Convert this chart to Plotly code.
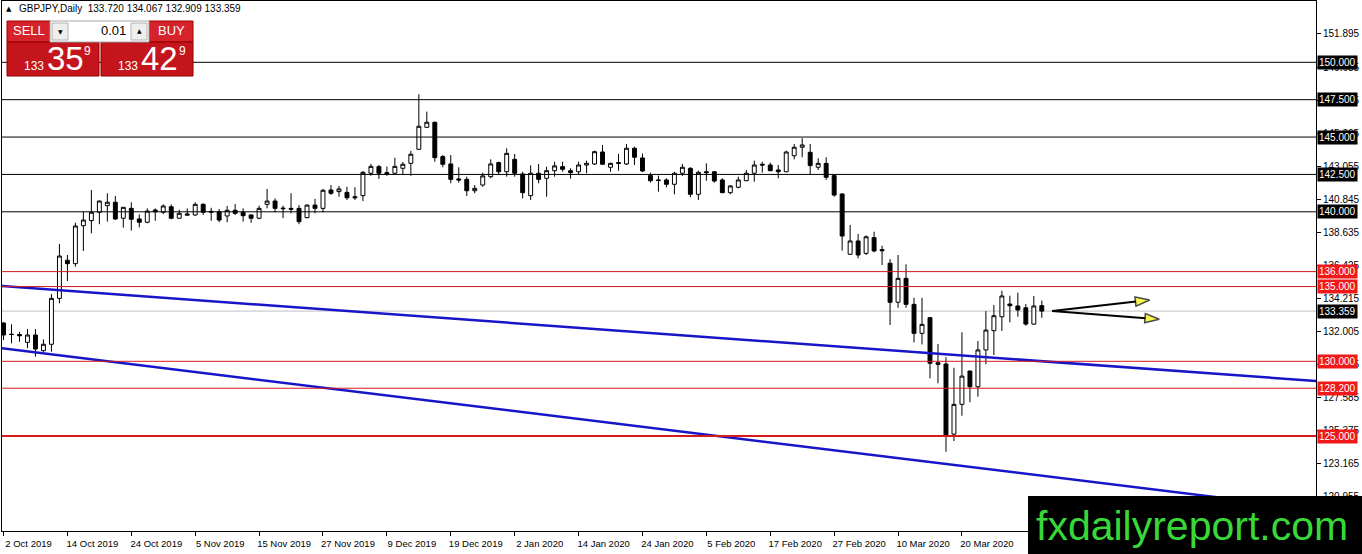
import plotly.graph_objects as go

# ---------------- data ----------------
open_ = [132.56, 131.80, 131.79, 131.27, 131.76, 130.71, 131.14, 134.21, 136.76, 136.53,
         139.07, 139.41, 139.97, 140.41, 140.64, 139.57, 140.23, 139.52, 139.30, 140.12,
         139.97, 140.34, 139.57, 139.77, 139.79, 140.50, 140.03, 140.00, 139.72, 140.10,
         139.97, 139.79, 139.57, 140.50, 140.72, 140.25, 140.23, 140.23, 139.61, 140.45,
         140.23, 141.46, 141.35, 141.30, 141.01, 141.08, 142.58, 143.02, 142.62, 142.58,
         142.91, 143.24, 144.18, 145.65, 145.99, 143.69, 143.20, 142.20, 142.17, 141.41,
         141.79, 142.35, 143.29, 142.68, 143.51, 142.53, 141.08, 142.58, 142.24, 142.75,
         143.02, 142.75, 142.68, 143.13, 143.20, 144.00, 142.98, 143.29, 143.20, 144.25,
         143.60, 142.42, 142.13, 142.13, 141.84, 142.58, 142.91, 141.17, 142.68, 142.68,
         142.13, 141.28, 141.64, 142.08, 142.58, 143.18, 143.13, 142.80, 142.68, 143.75,
         144.32, 143.98, 142.98, 143.24, 142.42, 141.19, 137.16, 138.05, 137.22, 138.27,
         137.47, 136.56, 133.95, 135.55, 133.81, 131.87, 132.92, 129.90, 129.82, 125.13,
         127.12, 129.35, 128.30, 130.76, 132.05, 132.98, 133.83, 133.70, 133.58, 132.49,
         133.720]
high = [132.63, 132.47, 131.98, 132.16, 132.16, 131.47, 134.50, 137.85, 137.11, 139.27,
        140.01, 141.46, 140.75, 141.24, 141.06, 140.32, 140.64, 139.83, 140.23, 140.23,
        140.50, 140.50, 140.14, 140.23, 140.64, 140.57, 140.27, 140.19, 140.39, 140.52,
        140.23, 139.83, 140.41, 141.53, 140.90, 140.41, 141.24, 140.45, 140.50, 140.86,
        141.53, 141.79, 141.73, 141.68, 141.64, 142.73, 143.20, 143.13, 143.02, 143.62,
        143.33, 144.07, 147.86, 146.70, 146.03, 143.80, 143.80, 142.98, 142.35, 141.79,
        142.62, 143.51, 143.35, 144.25, 143.87, 142.68, 143.11, 143.20, 143.02, 143.35,
        143.35, 142.91, 143.35, 143.42, 144.09, 144.47, 143.29, 143.87, 144.54, 144.36,
        143.90, 142.62, 142.42, 142.24, 142.68, 143.20, 142.98, 142.75, 143.24, 142.73,
        142.24, 141.79, 142.35, 142.80, 143.42, 143.35, 143.29, 143.13, 144.09, 144.54,
        144.92, 144.54, 143.58, 143.65, 142.45, 141.24, 139.12, 138.52, 138.42, 138.67,
        137.73, 136.84, 137.11, 136.49, 134.25, 134.25, 132.95, 131.16, 130.27, 129.57,
        131.94, 129.38, 131.36, 133.36, 133.76, 134.72, 134.39, 134.59, 133.83, 134.37,
        134.067]
low = [131.42, 131.20, 131.31, 130.87, 130.31, 130.64, 130.64, 133.88, 135.37, 136.33,
       137.38, 138.56, 139.17, 139.34, 139.45, 138.94, 138.74, 138.96, 139.23, 139.40,
       139.85, 139.50, 139.55, 139.72, 139.72, 139.79, 139.40, 139.30, 139.30, 139.79,
       139.34, 139.27, 139.50, 140.23, 139.97, 139.57, 139.90, 139.17, 139.57, 139.90,
       139.97, 141.13, 141.01, 140.79, 140.79, 140.72, 142.41, 142.20, 142.41, 142.46,
       142.46, 142.41, 144.15, 145.62, 143.35, 142.98, 141.91, 141.95, 141.06, 141.24,
       141.68, 142.24, 142.46, 142.35, 142.35, 140.90, 140.79, 141.91, 141.01, 142.35,
       142.68, 142.22, 142.46, 142.58, 143.13, 143.13, 142.68, 142.75, 143.13, 143.13,
       142.66, 141.95, 141.35, 141.64, 141.17, 142.40, 140.97, 140.79, 142.08, 141.95,
       141.25, 141.17, 141.57, 142.05, 142.01, 142.62, 142.72, 142.24, 142.65, 143.51,
       143.65, 142.46, 142.80, 142.13, 141.01, 137.40, 137.11, 136.89, 137.11, 137.29,
       136.44, 132.43, 133.58, 133.58, 131.27, 131.13, 128.86, 128.53, 123.95, 124.67,
       126.36, 127.26, 127.63, 129.80, 130.42, 132.03, 132.61, 132.98, 132.38, 132.43,
       132.909]
close = [131.76, 131.80, 131.71, 131.76, 130.82, 131.14, 134.21, 137.04, 136.53, 139.05,
         139.45, 139.97, 140.72, 140.64, 139.52, 140.30, 139.50, 139.30, 140.05, 140.00,
         140.39, 139.57, 139.90, 139.85, 140.50, 139.97, 139.98, 139.45, 140.10, 139.90,
         139.74, 139.57, 140.23, 140.72, 140.23, 140.21, 140.17, 139.34, 140.45, 140.23,
         141.44, 141.24, 141.53, 140.94, 140.94, 142.64, 143.04, 142.58, 142.55, 143.04,
         143.18, 143.85, 145.72, 145.99, 143.62, 143.18, 142.17, 142.13, 141.41, 141.57,
         142.40, 143.20, 142.68, 143.91, 142.58, 141.28, 142.58, 142.17, 142.75, 143.07,
         142.84, 142.62, 143.13, 143.24, 144.02, 143.18, 143.24, 143.24, 144.25, 143.65,
         142.73, 142.08, 142.10, 141.84, 142.58, 142.98, 141.17, 142.64, 142.62, 142.06,
         141.28, 141.73, 142.13, 142.58, 143.13, 143.13, 142.75, 142.68, 144.00, 144.32,
         144.47, 143.09, 143.24, 142.31, 141.12, 138.38, 138.05, 137.11, 138.33, 137.38,
         137.40, 133.95, 135.55, 133.81, 131.87, 132.47, 129.87, 129.80, 125.07, 127.12,
         129.01, 128.30, 130.76, 132.09, 133.05, 134.37, 133.72, 133.43, 132.49, 133.70,
         133.359]

x_tick_idx = [0, 8, 16, 24, 32, 40, 48, 56, 64, 72, 80, 88, 96, 104, 112, 120]
x_tick_text = ["2 Oct 2019", "14 Oct 2019", "24 Oct 2019", "5 Nov 2019", "15 Nov 2019",
               "27 Nov 2019", "9 Dec 2019", "19 Dec 2019", "2 Jan 2020", "14 Jan 2020",
               "24 Jan 2020", "5 Feb 2020", "17 Feb 2020", "27 Feb 2020", "10 Mar 2020",
               "20 Mar 2020"]
y_tick_vals = [151.895, 149.685, 147.475, 145.265, 143.055, 140.845, 138.635, 136.425,
               134.215, 132.005, 129.795, 127.585, 125.375, 123.165, 120.955]

black_levels = [150.0, 147.5, 145.0, 142.5, 140.0]
red_levels = [136.0, 135.0, 130.0, 128.2, 125.0]
red_widths = [1, 1, 1, 1, 2]
bid_price = 133.359

upper_trend_x = [-0.19, 164.33]
upper_trend_y = [135.03, 128.68]
lower_trend_x = [-0.19, 164.33]
lower_trend_y = [130.87, 120.10]

arrow_start = (131.3, 133.37)
arrow_ends = [(143.5, 134.10), (144.7, 132.81)]

header_text = "GBPJPY,Daily  133.720 134.067 132.909 133.359"
sell_price = ("133", "35", "9")
buy_price = ("133", "42", "9")
lot_text = "0.01"

# ---------------- layout geometry ----------------
W, H = 1362, 554
PL, PT, PW, PH = 2, 1, 1314, 530
FONT = "Liberation Sans, Arial, sans-serif"


def px(x):
    return (x - PL) / PW


def py(y):
    return 1 - (y - PT) / PH


x_idx = list(range(len(open_)))

fig = go.Figure()
fig.add_trace(go.Candlestick(
    x=x_idx, open=open_, high=high, low=low, close=close,
    increasing=dict(line=dict(color="black", width=1), fillcolor="white"),
    decreasing=dict(line=dict(color="black", width=1), fillcolor="black"),
    whiskerwidth=0, hoverinfo="skip", showlegend=False))

blue = "#1616c8"
fig.add_trace(go.Scatter(x=upper_trend_x, y=upper_trend_y, mode="lines",
                         line=dict(color=blue, width=2.5), hoverinfo="skip", showlegend=False))
fig.add_trace(go.Scatter(x=lower_trend_x, y=lower_trend_y, mode="lines",
                         line=dict(color=blue, width=2.5), hoverinfo="skip", showlegend=False))

for ex, ey in arrow_ends:
    fig.add_trace(go.Scatter(
        x=[arrow_start[0], ex], y=[arrow_start[1], ey], mode="lines+markers",
        line=dict(color="black", width=2),
        marker=dict(symbol="arrow", size=[0, 15], angleref="previous",
                    color="#f2f200", line=dict(color="black", width=1.5)),
        hoverinfo="skip", showlegend=False, cliponaxis=False))

shapes = []
annotations = []

# level lines
for lv in black_levels:
    shapes.append(dict(type="line", xref="paper", x0=0, x1=1, yref="y", y0=lv, y1=lv,
                       line=dict(color="black", width=1), layer="above"))
for lv, w in zip(red_levels, red_widths):
    shapes.append(dict(type="line", xref="paper", x0=0, x1=1, yref="y", y0=lv, y1=lv,
                       line=dict(color="#d41a1a", width=w), layer="above"))
shapes.append(dict(type="line", xref="paper", x0=0, x1=1, yref="y", y0=bid_price, y1=bid_price,
                   line=dict(color="#c0c0c0", width=1), layer="below"))


def level_label(val, bg):
    annotations.append(dict(
        xref="paper", x=1, xanchor="left", xshift=1, yref="y", y=val, yanchor="middle",
        text=f"{val:.3f}", showarrow=False, bgcolor=bg, borderpad=1,
        font=dict(family=FONT, size=10, color="white")))


for lv in black_levels:
    level_label(lv, "black")
for lv in red_levels:
    level_label(lv, "#f01818")
level_label(bid_price, "black")

# one-click trading panel
def rect(x0, y0, x1, y1, fill, line_color=None, lw=0):
    shapes.append(dict(type="rect", xref="paper", yref="paper",
                       x0=px(x0), x1=px(x1), y0=py(y1), y1=py(y0),
                       fillcolor=fill, line=dict(color=line_color or fill, width=lw),
                       layer="above"))


rect(7, 21, 50, 42, "#d6222a", "#a00000", 1)
rect(149, 21, 193, 42, "#d6222a", "#a00000", 1)
rect(7, 42, 99, 76, "#c4141c", "#900000", 1)
rect(101, 42, 193, 76, "#c4141c", "#900000", 1)
rect(50, 21, 149, 42, "white", "#a8a8a8", 1)
rect(52, 23, 68, 40, "#eeeeee", "#b4b4b4", 1)
rect(131, 23, 147, 40, "#eeeeee", "#b4b4b4", 1)


def txt(x, y, s, size, color="white", xanchor="left", family=FONT):
    annotations.append(dict(xref="paper", yref="paper", x=px(x), y=py(y), text=s,
                            xanchor=xanchor, yanchor="middle", showarrow=False,
                            font=dict(family=family, size=size, color=color)))


txt(28.5, 31, "SELL", 13, xanchor="center")
txt(171, 31, "BUY", 13, xanchor="center")
txt(128, 31, lot_text, 13, color="black", xanchor="right")
txt(60, 31.5, "▼", 6, color="black", xanchor="center", family="DejaVu Sans")
txt(139, 31, "▲", 6, color="black", xanchor="center", family="DejaVu Sans")

txt(22, 65.5, sell_price[0], 12)
txt(45, 58.5, sell_price[1], 33)
txt(82, 51, sell_price[2], 12)
txt(116, 65.5, buy_price[0], 12)
txt(139, 58.5, buy_price[1], 33)
txt(177, 51, buy_price[2], 12)

# header
txt(4, 9, "▲", 7, color="black", family="DejaVu Sans")
txt(17, 9, header_text, 10, color="black")

# watermark
rect(1028, 496, 1363, 555, "black")
txt(1192, 526, "fxdailyreport.com", 41, color="#38d838", xanchor="center")

fig.update_layout(
    width=W, height=H,
    margin=dict(l=PL, r=W - PL - PW, t=PT, b=H - PT - PH, pad=0),
    paper_bgcolor="white", plot_bgcolor="white",
    showlegend=False,
    font=dict(family=FONT, size=10, color="black"),
    shapes=shapes, annotations=annotations,
    xaxis=dict(range=[-0.19, 164.33], tickmode="array", tickvals=x_tick_idx,
               ticktext=x_tick_text, ticks="outside", ticklen=4, tickcolor="black",
               showline=True, linecolor="black", linewidth=1, mirror=True,
               showgrid=False, zeroline=False, rangeslider=dict(visible=False),
               tickfont=dict(family=FONT, size=9.5, color="black"),
               ticklabelshift=25, ticklabelstandoff=0, fixedrange=True),
    yaxis=dict(range=[118.65, 154.10], side="right", tickmode="array",
               tickvals=y_tick_vals, ticktext=[f"{v:.3f}" for v in y_tick_vals],
               ticks="outside", ticklen=4, tickcolor="black",
               showline=True, linecolor="black", linewidth=1, mirror=True,
               showgrid=False, zeroline=False,
               tickfont=dict(family=FONT, size=10, color="black"), fixedrange=True),
)

fig.write_html("out.html", config=dict(displayModeBar=False, staticPlot=True),
               post_script="document.body.style.margin='0';document.body.style.overflow='hidden';")
